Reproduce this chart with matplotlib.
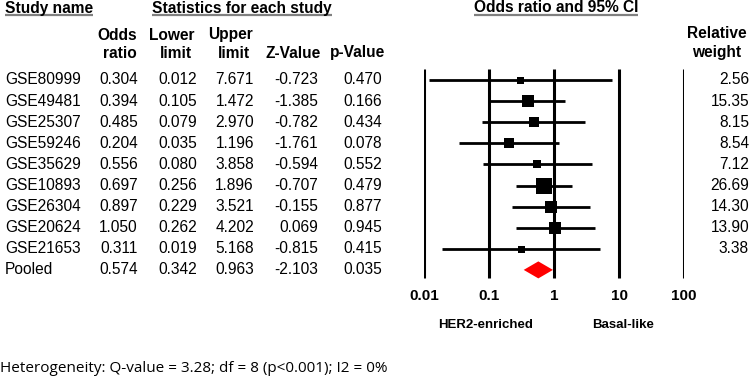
import numpy as np
import matplotlib
matplotlib.use("Agg")
import matplotlib.pyplot as plt

plt.rcParams['font.family'] = ['Liberation Sans', 'DejaVu Sans']

# Data
studies = ['GSE80999', 'GSE49481', 'GSE25307', 'GSE59246', 'GSE35629',
           'GSE10893', 'GSE26304', 'GSE20624', 'GSE21653']
odds = [0.304, 0.394, 0.485, 0.204, 0.556, 0.697, 0.897, 1.050, 0.311]
lower = [0.012, 0.105, 0.079, 0.035, 0.080, 0.256, 0.229, 0.262, 0.019]
upper = [7.671, 1.472, 2.970, 1.196, 3.858, 1.896, 3.521, 4.202, 5.168]
zval = [-0.723, -1.385, -0.782, -1.761, -0.594, -0.707, -0.155, 0.069, -0.815]
pval = [0.470, 0.166, 0.434, 0.078, 0.552, 0.479, 0.877, 0.945, 0.415]
weight = [2.56, 15.35, 8.15, 8.54, 7.12, 26.69, 14.30, 13.90, 3.38]

pooled = {'or': 0.574, 'lo': 0.342, 'hi': 0.963, 'z': -2.103, 'p': 0.035}
ticks = [0.01, 0.1, 1, 10, 100]
tick_labels = ['0.01', '0.1', '1', '10', '100']
footnote = 'Heterogeneity: Q-value = 3.28; df = 8 (p<0.001); I2 = 0%'

W, H = 750, 383
fig = plt.figure(figsize=(W / 100, H / 100), dpi=100)

# overlay axes in pixel coordinates for the table text
tx = fig.add_axes([0, 0, 1, 1])
tx.set_xlim(0, W)
tx.set_ylim(H, 0)
tx.axis('off')

# forest plot axes: log x, y in pixels
fx = fig.add_axes([424 / W, 0, 260 / W, 1])
fx.set_xscale('log')
fx.set_xlim(0.01, 100)
fx.set_ylim(H, 0)
fx.axis('off')

fs = 11.2
row0, step = 80, 21.1
rows_y = [row0 + step * i for i in range(len(studies) + 1)]

# headers
titles = [('Study name', 5, 'left'), ('Statistics for each study', 242, 'center'),
          ('Odds ratio and 95% CI', 556, 'center')]
fig.canvas.draw()
renderer = fig.canvas.get_renderer()
for txt, x, ha in titles:
    t = tx.text(x, 8, txt, ha=ha, va='center', fontsize=fs, fontweight='bold')
    bb = t.get_window_extent(renderer)
    tx.plot([bb.x0, bb.x1], [15, 15], color='#808080', lw=1.6, solid_capstyle='butt')

heads = [('Odds', 137, 35), ('ratio', 137, 53),
         ('Lower', 195, 35), ('limit', 192, 53),
         ('Upper', 253, 35), ('limit', 250, 53),
         ('Z-Value', 321, 53), ('p-Value', 385, 53)]
for txt, x, y in heads:
    tx.text(x, y, txt, ha='right', va='center', fontsize=fs, fontweight='bold')
tx.text(717, 33, 'Relative', ha='center', va='center', fontsize=fs, fontweight='bold')
tx.text(717, 52, 'weight', ha='center', va='center', fontsize=fs, fontweight='bold')

# table rows
names = studies + ['Pooled']
cols = [odds + [pooled['or']], lower + [pooled['lo']], upper + [pooled['hi']],
        zval + [pooled['z']], pval + [pooled['p']]]
col_x = [138, 197, 254, 318, 382]
for i, name in enumerate(names):
    y = rows_y[i]
    tx.text(5, y, name, ha='left', va='center', fontsize=fs)
    for c, x in zip(cols, col_x):
        tx.text(x, y, f'{c[i]:.3f}', ha='right', va='center', fontsize=fs)
for i, w in enumerate(weight):
    tx.text(749, rows_y[i], f'{w:.2f}', ha='right', va='center', fontsize=fs)

# forest plot
fx.vlines(ticks, 69, 278, color='black', lw=2.2)
for i in range(len(studies)):
    y = rows_y[i]
    fx.plot([lower[i], upper[i]], [y, y], color='black', lw=2.0, solid_capstyle='butt')
    side = max(7.0, 3.23 * np.sqrt(weight[i])) * 0.72
    fx.scatter([odds[i]], [y], marker='s', s=side ** 2, color='black', lw=0, zorder=3)

yp = rows_y[-1]
fx.fill([pooled['lo'], pooled['or'], pooled['hi'], pooled['or']],
        [yp, yp - 8.5, yp, yp + 8.5], color='#ff0000', lw=0, zorder=3)

for t, lab in zip(ticks, tick_labels):
    fx.text(t, 296, lab, ha='center', va='center', fontsize=11, fontweight='bold')
tx.text(486, 325, 'HER2-enriched', ha='center', va='center', fontsize=9.5, fontweight='bold')
tx.text(623, 325, 'Basal-like', ha='center', va='center', fontsize=9.5, fontweight='bold')

tx.text(0, 368, footnote, ha='left', va='center', fontsize=11,
        family=['Open Sans', 'DejaVu Sans'])

fig.savefig('out.png', dpi=100)
